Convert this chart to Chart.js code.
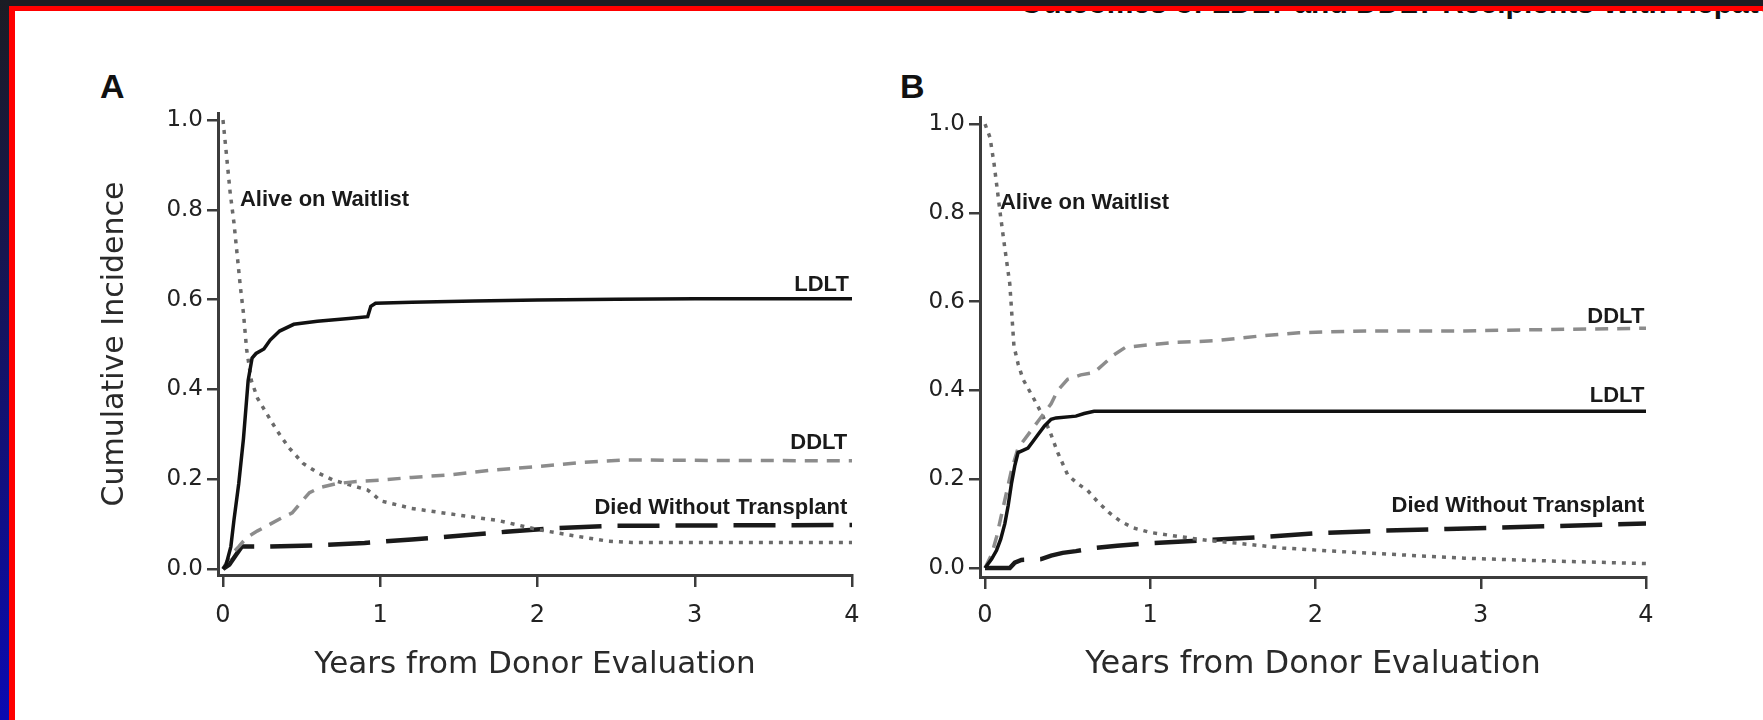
<!DOCTYPE html>
<html>
<head>
<meta charset="utf-8">
<script src="https://cdn.jsdelivr.net/npm/chart.js@4.4.0/dist/chart.umd.min.js"></script>
<style>
  html, body { margin: 0; padding: 0; background: #fff; }
  body { width: 1763px; height: 720px; position: relative; overflow: hidden; font-family: "Liberation Sans", Arial, sans-serif; }
  .abs { position: absolute; }
  #heading { left: 1020px; top: -12px; font-size: 30px; line-height: 30px; font-weight: bold; color: #111; white-space: nowrap; }
  .letter { top: 69px; font-size: 34px; line-height: 34px; font-weight: bold; color: #111; }
  #frameTop { left: 0; top: 0; width: 1763px; height: 6px; background: #1b1c22; }
  #frameLeft { left: 0; top: 0; width: 9px; height: 720px; background: linear-gradient(#1b1c24, #161650 35%, #0a0ab2); }
  #redTop { left: 9px; top: 6px; width: 1754px; height: 5px; background: #ff0000; }
  #redLeft { left: 9px; top: 6px; width: 6px; height: 714px; background: #ff0000; }
</style>
</head>
<body>
<div id="heading" class="abs">Outcomes of LDLT and DDLT Recipients With Hepatocellular Carcinoma</div>
<div class="abs letter" style="left:100px">A</div>
<div class="abs letter" style="left:900px">B</div>
<canvas id="chartA" class="abs" width="790" height="615" style="left:90px; top:95px"></canvas>
<canvas id="chartB" class="abs" width="835" height="615" style="left:855px; top:95px"></canvas>
<div id="frameTop" class="abs"></div>
<div id="frameLeft" class="abs"></div>
<div id="redTop" class="abs"></div>
<div id="redLeft" class="abs"></div>

<script>
// ---- data (years from donor evaluation / cumulative incidence) ----
const xTickValues = [0, 1, 2, 3, 4];
const yTickValues = [0, 0.2, 0.4, 0.6, 0.8, 1.0];

// Panel A
const aLdltX = [0, 0.02, 0.05, 0.07, 0.10, 0.13, 0.16, 0.185, 0.21, 0.26, 0.30, 0.36, 0.45, 0.60, 0.80, 0.92, 0.94, 0.97, 1.2, 1.6, 2.0, 2.5, 3.0, 4.0];
const aLdltY = [0, 0.01, 0.05, 0.11, 0.19, 0.29, 0.42, 0.47, 0.48, 0.49, 0.51, 0.53, 0.545, 0.552, 0.558, 0.562, 0.585, 0.592, 0.594, 0.597, 0.599, 0.601, 0.602, 0.602];

const aDdltX = [0, 0.03, 0.06, 0.10, 0.15, 0.22, 0.30, 0.38, 0.44, 0.50, 0.55, 0.62, 0.72, 0.85, 1.0, 1.2, 1.45, 1.7, 2.0, 2.3, 2.55, 3.0, 4.0];
const aDdltY = [0, 0.02, 0.035, 0.05, 0.07, 0.085, 0.10, 0.115, 0.125, 0.15, 0.17, 0.182, 0.19, 0.195, 0.198, 0.204, 0.21, 0.22, 0.228, 0.238, 0.243, 0.242, 0.241];

const aWaitX = [0, 0.02, 0.045, 0.07, 0.09, 0.11, 0.13, 0.15, 0.18, 0.22, 0.28, 0.34, 0.42, 0.51, 0.60, 0.70, 0.80, 0.92, 0.96, 1.0, 1.2, 1.5, 1.75, 2.0, 2.25, 2.45, 2.6, 3.0, 4.0];
const aWaitY = [1.0, 0.93, 0.84, 0.77, 0.70, 0.63, 0.57, 0.49, 0.42, 0.38, 0.345, 0.31, 0.27, 0.235, 0.215, 0.198, 0.188, 0.176, 0.165, 0.152, 0.135, 0.12, 0.108, 0.088, 0.073, 0.062, 0.059, 0.059, 0.059];

const aDiedX = [0, 0.04, 0.08, 0.12, 0.3, 0.6, 0.9, 1.2, 1.5, 1.8, 2.1, 2.45, 3.0, 4.0];
const aDiedY = [0, 0.01, 0.03, 0.05, 0.05, 0.053, 0.058, 0.066, 0.074, 0.083, 0.091, 0.096, 0.097, 0.098];

// Panel B
const bLdltX = [0, 0.04, 0.07, 0.095, 0.12, 0.14, 0.16, 0.18, 0.20, 0.23, 0.26, 0.29, 0.32, 0.36, 0.40, 0.43, 0.55, 0.60, 0.66, 1.0, 2.0, 3.0, 4.0];
const bLdltY = [0, 0.02, 0.04, 0.065, 0.10, 0.14, 0.19, 0.23, 0.26, 0.265, 0.27, 0.285, 0.30, 0.32, 0.335, 0.338, 0.342, 0.348, 0.353, 0.353, 0.353, 0.353, 0.353];

const bDdltX = [0, 0.04, 0.07, 0.10, 0.13, 0.16, 0.20, 0.24, 0.28, 0.32, 0.36, 0.40, 0.44, 0.50, 0.58, 0.66, 0.72, 0.78, 0.85, 1.0, 1.15, 1.4, 1.65, 1.9, 2.3, 2.9, 3.4, 4.0];
const bDdltY = [0, 0.03, 0.07, 0.12, 0.17, 0.22, 0.27, 0.29, 0.31, 0.33, 0.35, 0.37, 0.40, 0.425, 0.435, 0.44, 0.46, 0.48, 0.497, 0.503, 0.508, 0.512, 0.522, 0.53, 0.534, 0.534, 0.537, 0.54];

const bWaitX = [0, 0.03, 0.055, 0.075, 0.095, 0.12, 0.15, 0.175, 0.20, 0.23, 0.29, 0.34, 0.39, 0.44, 0.50, 0.56, 0.62, 0.68, 0.75, 0.82, 0.90, 1.0, 1.15, 1.35, 1.55, 1.8, 2.1, 2.5, 2.9, 3.4, 4.0];
const bWaitY = [1.0, 0.97, 0.91, 0.85, 0.79, 0.72, 0.64, 0.50, 0.46, 0.425, 0.385, 0.35, 0.31, 0.26, 0.21, 0.19, 0.175, 0.15, 0.125, 0.105, 0.09, 0.08, 0.072, 0.062, 0.055, 0.045, 0.038, 0.03, 0.022, 0.016, 0.01];

const bDiedX = [0, 0.15, 0.18, 0.22, 0.34, 0.40, 0.47, 0.55, 0.66, 0.80, 1.0, 1.3, 1.6, 2.0, 2.4, 2.8, 3.4, 4.0];
const bDiedY = [0, 0, 0.012, 0.018, 0.02, 0.028, 0.034, 0.038, 0.045, 0.05, 0.056, 0.062, 0.068, 0.078, 0.084, 0.088, 0.094, 0.1];

// line styles per outcome
const styles = {
    ldlt: { color: '#111111', width: 3.5, dash: [] },
    ddlt: { color: '#8c8c8c', width: 3.5, dash: [13, 9] },
    wait: { color: '#6a6a6a', width: 3.5, dash: [4, 6] },
    died: { color: '#1a1a1a', width: 4.5, dash: [42, 16] }
};

// draws the curve names next to the lines
const curveLabels = {
    id: 'curveLabels',
    afterDatasetsDraw(chart, args, opts) {
        const { ctx, scales: { x, y } } = chart;
        ctx.save();
        ctx.font = 'bold 22px "Liberation Sans", Arial, sans-serif';
        ctx.fillStyle = '#1a1a1a';
        ctx.textBaseline = 'middle';
        (opts.items || []).forEach(item => {
            ctx.textAlign = item.align;
            ctx.fillText(item.text, x.getPixelForValue(item.x), y.getPixelForValue(item.y));
        });
        ctx.restore();
    }
};

function toPoints(xs, ys) {
    return xs.map((v, i) => ({ x: v, y: ys[i] }));
}

function makeDataset(name, xs, ys, style) {
    return {
        label: name,
        data: toPoints(xs, ys),
        borderColor: style.color,
        borderWidth: style.width,
        borderDash: style.dash,
        borderCapStyle: 'butt',
        pointRadius: 0,
        fill: false,
        tension: 0
    };
}

function panelChart(id, datasets, labels, g) {
    const ctx = document.getElementById(id).getContext('2d');
    return new Chart(ctx, {
        type: 'line',
        data: { datasets: datasets },
        options: {
            responsive: false,
            animation: false,
            devicePixelRatio: 1,
            layout: { padding: { left: 0, right: g.padRight, top: g.padTop, bottom: 0 } },
            plugins: {
                legend: { display: false },
                tooltip: { enabled: false },
                curveLabels: { items: labels }
            },
            scales: {
                x: {
                    type: 'linear',
                    min: g.xMin,
                    max: 4,
                    afterFit: s => { s.height = g.xHeight; },
                    afterBuildTicks: s => { s.ticks = xTickValues.map(v => ({ value: v })); },
                    border: { display: true, color: '#3c3c3c', width: 3 },
                    grid: { display: true, drawOnChartArea: false, drawTicks: true, tickLength: 12, color: '#3c3c3c', lineWidth: 2.5 },
                    ticks: {
                        autoSkip: false, maxRotation: 0, padding: g.xTickPad, color: '#222',
                        font: { family: 'DejaVu Sans', size: 24 },
                        callback: v => String(v)
                    },
                    title: {
                        display: true, text: 'Years from Donor Evaluation', color: '#2a2a2a',
                        font: { family: 'DejaVu Sans', size: g.xTitleSize },
                        padding: { top: 0, bottom: 26 }
                    }
                },
                y: {
                    type: 'linear',
                    min: g.yMin,
                    max: g.yMax,
                    afterFit: s => { s.width = g.yWidth; },
                    afterBuildTicks: s => { s.ticks = yTickValues.map(v => ({ value: v })); },
                    border: { display: true, color: '#3c3c3c', width: 3 },
                    grid: { display: true, drawOnChartArea: false, drawTicks: true, tickLength: 11, color: '#3c3c3c', lineWidth: 2.5 },
                    ticks: {
                        autoSkip: false, padding: 4, color: '#222',
                        font: { family: 'DejaVu Sans', size: 23 },
                        callback: v => Number(v).toFixed(1)
                    },
                    title: {
                        display: g.yTitle, text: 'Cumulative Incidence', color: '#2a2a2a',
                        font: { family: 'DejaVu Sans', size: 30 },
                        padding: { top: 7, bottom: 0 }
                    }
                }
            }
        },
        plugins: [curveLabels]
    });
}

panelChart('chartA', [
    makeDataset('LDLT', aLdltX, aLdltY, styles.ldlt),
    makeDataset('DDLT', aDdltX, aDdltY, styles.ddlt),
    makeDataset('Alive on Waitlist', aWaitX, aWaitY, styles.wait),
    makeDataset('Died Without Transplant', aDiedX, aDiedY, styles.died)
], [
    { text: 'Alive on Waitlist', x: 0.108, y: 0.821, align: 'left' },
    { text: 'LDLT', x: 3.98, y: 0.632, align: 'right' },
    { text: 'DDLT', x: 3.97, y: 0.28, align: 'right' },
    { text: 'Died Without Transplant', x: 3.97, y: 0.136, align: 'right' }
], { padRight: 28, padTop: 18, xHeight: 135, yWidth: 128, xMin: -0.0318, yMin: -0.0133, yMax: 1.0156, xTickPad: 14, xTitleSize: 31, yTitle: true });

panelChart('chartB', [
    makeDataset('LDLT', bLdltX, bLdltY, styles.ldlt),
    makeDataset('DDLT', bDdltX, bDdltY, styles.ddlt),
    makeDataset('Alive on Waitlist', bWaitX, bWaitY, styles.wait),
    makeDataset('Died Without Transplant', bDiedX, bDiedY, styles.died)
], [
    { text: 'Alive on Waitlist', x: 0.09, y: 0.822, align: 'left' },
    { text: 'DDLT', x: 3.99, y: 0.565, align: 'right' },
    { text: 'LDLT', x: 3.99, y: 0.387, align: 'right' },
    { text: 'Died Without Transplant', x: 3.99, y: 0.14, align: 'right' }
], { padRight: 44, padTop: 22, xHeight: 133, yWidth: 125, xMin: -0.0303, yMin: -0.0203, yMax: 1.0158, xTickPad: 12, xTitleSize: 32, yTitle: false });
</script>
</body>
</html>
